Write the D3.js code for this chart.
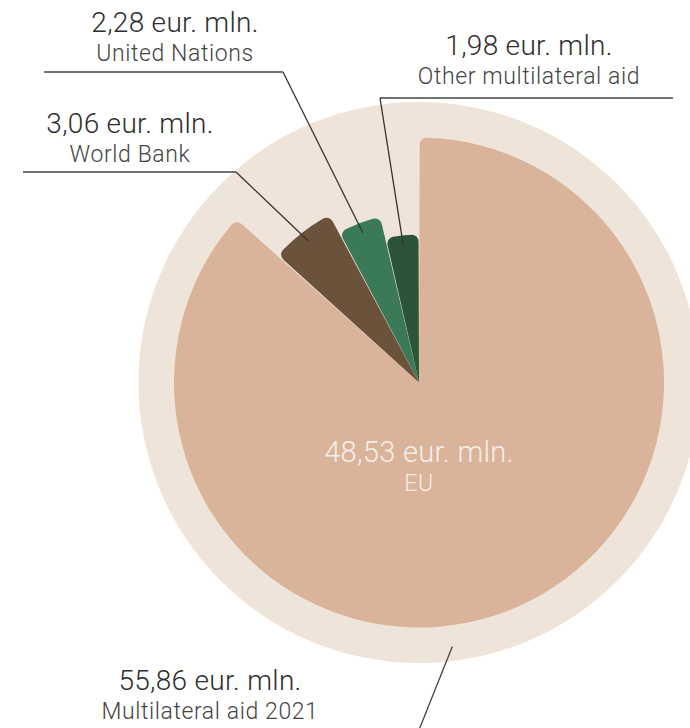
<!DOCTYPE html>
<html>
<head>
<meta charset="utf-8">
<script src="https://cdn.jsdelivr.net/npm/d3@7"></script>
<style>
  html, body { margin: 0; padding: 0; background: #fff; }
  svg { display: block; font-family: Roboto, "Noto Sans", sans-serif; font-weight: 300; }
</style>
</head>
<body>
<div id="chart"></div>
<script>
// data
var categories = ['EU', 'World Bank', 'United Nations', 'Other multilateral aid'];
var values = [48.53, 3.06, 2.28, 1.98];
var totalName = 'Multilateral aid 2021';
var totalValue = 55.86;
var unit = 'eur. mln.';

var width = 690, height = 728;
var cx = 419, cy = 382.5;
var ringRadius = 280.5;

// look of each slice (same order as categories)
var colors = ['#d9b49b', '#6b523b', '#3b7a57', '#2c5439'];
var radii = [245, 190, 170, 148];
// where the outside labels sit: text centre x, value baseline, leader line
var labelPos = [
    null,
    {x: 130, y: 133, lineY: 172, x1: 23, x2: 236, elbow: 236},
    {x: 175, y: 32, lineY: 72, x1: 44, x2: 283, elbow: 283},
    {x: 529, y: 55, lineY: 98, x1: 380, x2: 673, elbow: 380}
];

var fmt = function(v) {
    return d3.format('.2f')(v).replace('.', ',') + ' ' + unit;
};

var svg = d3.select('#chart')
    .append('svg')
    .attr('width', width)
    .attr('height', height);

var g = svg.append('g').attr('transform', 'translate(' + cx + ',' + cy + ')');

g.append('circle')
    .attr('r', ringRadius)
    .attr('fill', '#efe4d9');

var pie = d3.pie().sort(null).padAngle(0.006)
    .startAngle(0).endAngle(2 * Math.PI);
var arcs = pie(values);

var arc = d3.arc()
    .innerRadius(0)
    .outerRadius(function(d) { return radii[d.index]; })
    .cornerRadius(7);

g.selectAll('path.slice')
    .data(arcs)
    .enter().append('path')
    .attr('class', 'slice')
    .attr('d', arc)
    .attr('fill', function(d) { return colors[d.index]; });

var addLabel = function(x, y, value, name, big, color1, color2) {
    svg.append('text')
        .attr('x', x).attr('y', y)
        .attr('text-anchor', 'middle')
        .attr('font-size', big ? 29 : 28)
        .attr('letter-spacing', 0.3)
        .attr('fill', color1)
        .text(fmt(value));
    svg.append('text')
        .attr('x', x).attr('y', y + 29)
        .attr('text-anchor', 'middle')
        .attr('font-size', 23)
        .attr('letter-spacing', 0.6)
        .attr('fill', color2)
        .text(name);
};

// leader lines for the small slices
var pointArc = d3.arc()
    .innerRadius(function(d) { return radii[d.index] - 10; })
    .outerRadius(function(d) { return radii[d.index] - 10; });
var line = d3.line();

arcs.forEach(function(d) {
    var p = labelPos[d.index];
    if (!p) return;
    var c = pointArc.centroid(d);
    svg.append('path')
        .attr('d', line([[p.x1, p.lineY], [p.x2, p.lineY]]))
        .attr('stroke', '#444').attr('stroke-width', 1.3).attr('fill', 'none');
    svg.append('path')
        .attr('d', line([[p.elbow, p.lineY], [cx + c[0], cy + c[1]]]))
        .attr('stroke', '#333').attr('stroke-width', 1.3).attr('fill', 'none');
    addLabel(p.x, p.y, values[d.index], categories[d.index], false, '#2e2e2e', '#444');
});

// EU label inside
addLabel(cx, 462, values[0], categories[0], true, '#f6eee7', '#f6eee7');

// total
var ringPoint = d3.arc().innerRadius(266).outerRadius(266)
    .centroid({startAngle: Math.PI * 0.96, endAngle: Math.PI * 0.96});
svg.append('path')
    .attr('d', line([[cx + ringPoint[0], cy + ringPoint[1]], [415, 740]]))
    .attr('stroke', '#444').attr('stroke-width', 1.3).attr('fill', 'none');
addLabel(210, 690, totalValue, totalName, false, '#2e2e2e', '#444');
</script>
</body>
</html>
